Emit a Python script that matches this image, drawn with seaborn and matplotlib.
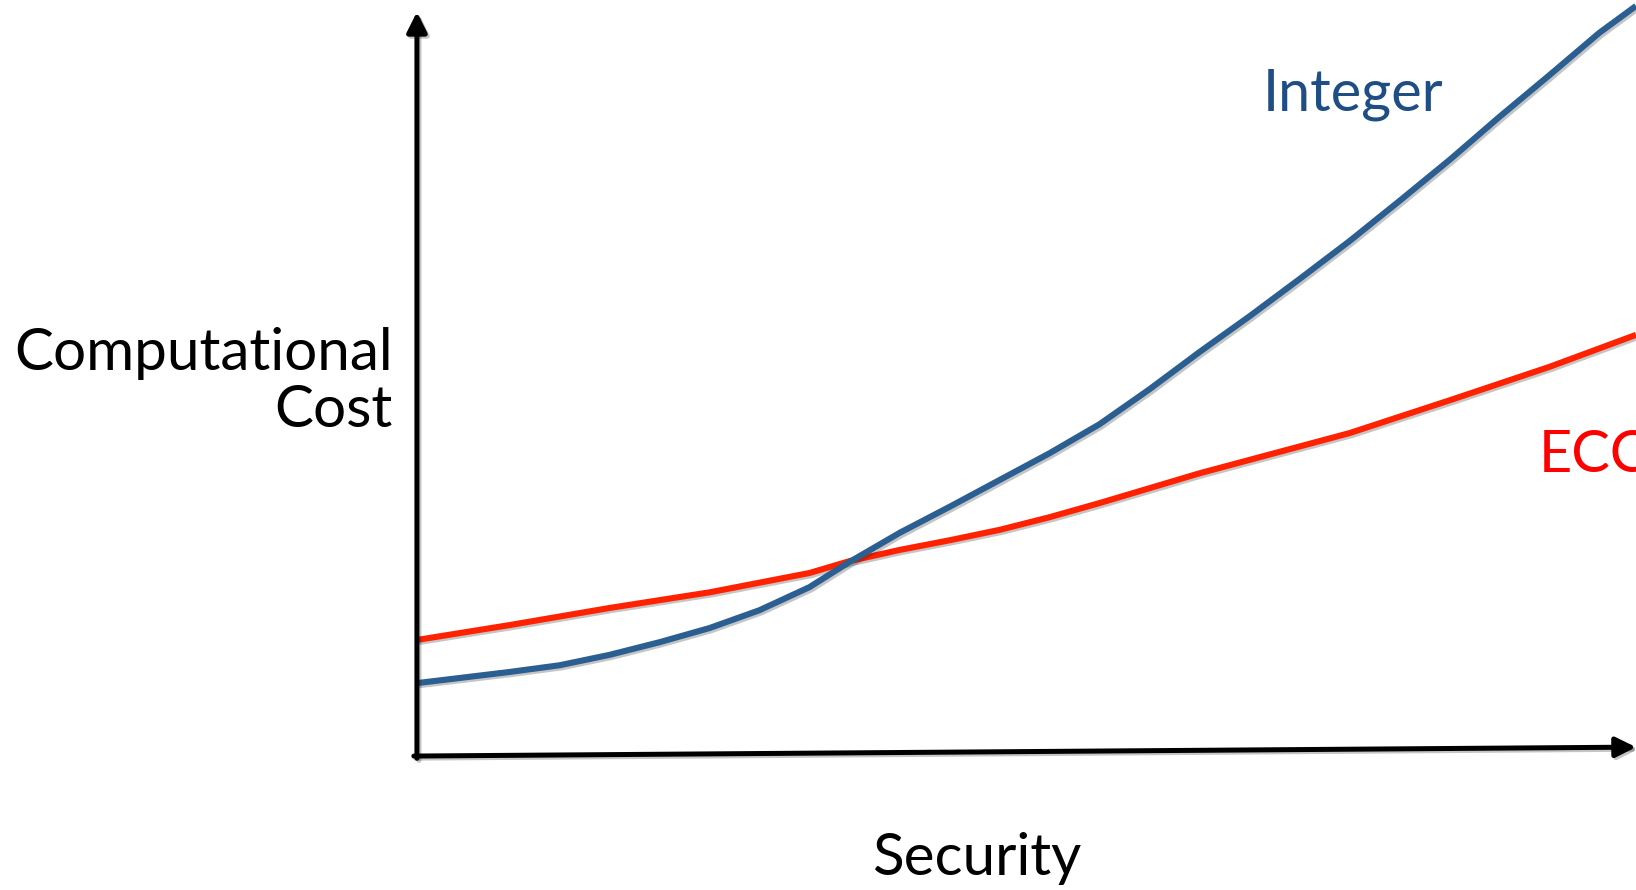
import pandas as pd
import matplotlib.pyplot as plt
import matplotlib.patheffects as pe
import seaborn as sns

# Values (arbitrary units, axis origin = 0,0)
ecc_x = [0, 7.6, 15.8, 24.0, 32.2, 35.5, 39.6, 43.7, 47.8, 51.9, 56.0, 60.1,
         64.2, 68.3, 76.5, 84.7, 92.9, 100]
ecc_y = [15.6, 17.6, 19.9, 22.0, 24.6, 26.2, 27.7, 29.0, 30.4, 32.1, 34.0, 36.0,
         38.0, 39.8, 43.4, 47.8, 52.3, 56.6]

int_x = [0, 7.6, 11.7, 15.8, 19.9, 24.0, 28.1, 32.2, 35.5, 39.6, 43.7, 47.8,
         51.9, 56.0, 60.1, 64.2, 68.3, 72.4, 76.5, 80.6, 84.7, 88.8, 92.9, 97.0, 100]
int_y = [9.8, 11.3, 12.2, 13.6, 15.3, 17.2, 19.6, 22.7, 26.1, 30.0, 33.5, 37.1,
         40.7, 44.6, 49.3, 54.3, 59.1, 64.1, 69.2, 74.6, 80.1, 85.9, 91.5, 97.2, 100.8]

blue = '#2B5E91'
red = '#FF2200'

sns.set_theme(style="white")
plt.rcParams['font.family'] = ['Lato', 'DejaVu Sans']

df = pd.concat([
    pd.DataFrame({'Security': ecc_x, 'Cost': ecc_y, 'Scheme': 'ECC'}),
    pd.DataFrame({'Security': int_x, 'Cost': int_y, 'Scheme': 'Integer'}),
])

fig = plt.figure(figsize=(16.36, 8.90), dpi=100)
ax = fig.add_axes([0, 0, 1, 1])
shadow = [pe.SimpleLineShadow(offset=(1.5, -1.5), alpha=0.25), pe.Normal()]

sns.lineplot(data=df, x='Security', y='Cost', hue='Scheme', sort=False,
             palette={'ECC': red, 'Integer': blue}, linewidth=4.4,
             legend=False, ax=ax)
for line in ax.lines:
    line.set_path_effects(shadow)
    line.set_solid_capstyle('butt')
    line.set_solid_joinstyle('round')

ax.set_xlim(-34.2, 100)
ax.set_ylim(-18.0, 101.6)
ax.axis('off')

# axis arrows
arrow = dict(arrowstyle='-|>,head_length=1.0,head_width=0.5', color='black', lw=3.6,
             shrinkA=0, shrinkB=0, path_effects=shadow)
ax.annotate('', xy=(0, 100), xytext=(0, -0.3), arrowprops=arrow)
ax.annotate('', xy=(100, 1.2), xytext=(-0.25, 0), arrowprops=arrow)

# labels
ax.text(-1.97, 51.9, 'Computational', ha='right', va='baseline', fontsize=42, color='black')
ax.text(-1.97, 44.2, 'Cost', ha='right', va='baseline', fontsize=42, color='black')
ax.text(37.3, -16.0, 'Security', ha='left', va='baseline', fontsize=42, color='black')
ax.text(69.4, 86.8, 'Integer', ha='left', va='baseline', fontsize=41.5, color='#1F4E85')
ax.text(92.0, 38.2, 'ECC', ha='left', va='baseline', fontsize=41.5, color='#FF0000')

plt.savefig('out.png', dpi=100)
plt.close()
